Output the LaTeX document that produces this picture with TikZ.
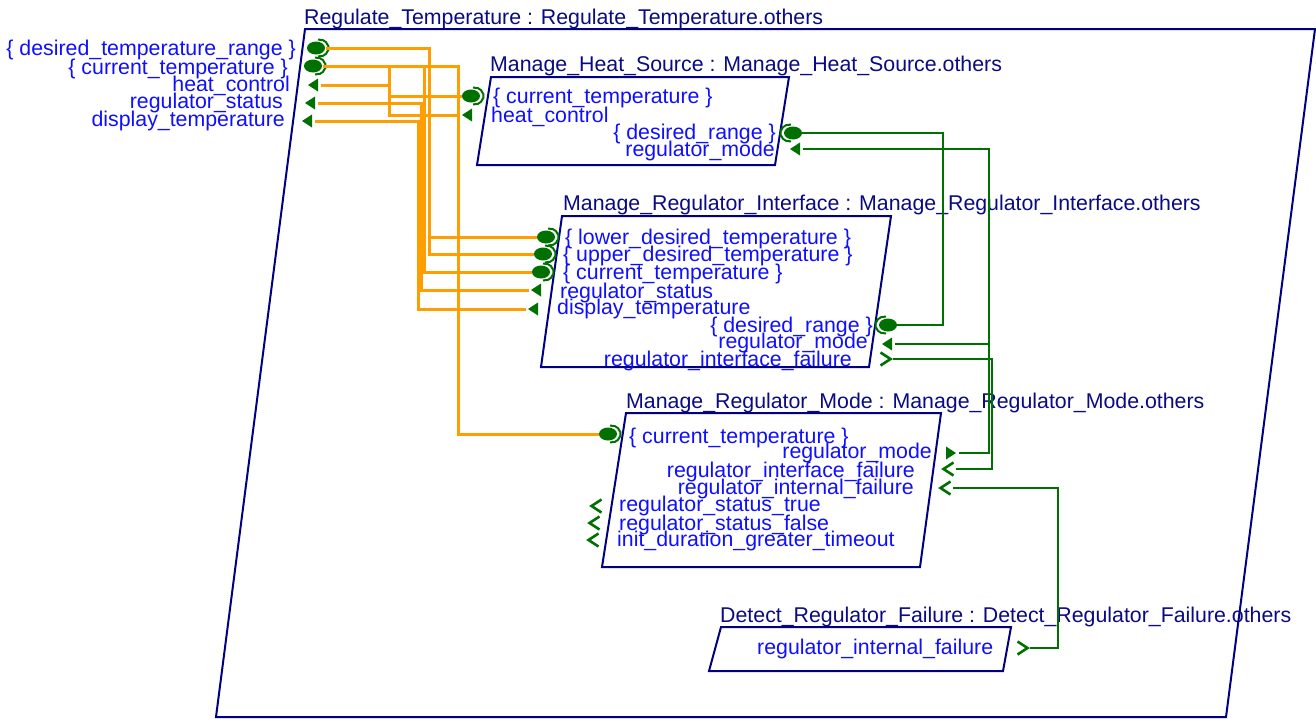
\documentclass[tikz,border=0pt]{standalone}
\usepackage{fontspec}
\setmainfont{Liberation Sans}
\usetikzlibrary{calc}

\definecolor{boxline}{RGB}{0,0,128}
\definecolor{titletext}{RGB}{10,10,130}
\definecolor{porttext}{RGB}{15,15,255}
\definecolor{portgreen}{RGB}{0,112,0}
\definecolor{wireorange}{RGB}{255,158,0}

\tikzset{
  boxln/.style={draw=boxline, line width=2},
  ttl/.style={text=titletext, inner sep=0, font=\fontsize{21.33}{22}\selectfont},
  lbl/.style={text=porttext, inner sep=0, font=\fontsize{21.33}{22}\selectfont},
  owire/.style={draw=wireorange, line width=3},
  gwire/.style={draw=portgreen, line width=2.5},
  % data port, bracket on the right of the ellipse
  dataR/.pic={
    \fill[portgreen] (0,0) ellipse [x radius=9, y radius=6.5];
    \draw[portgreen, line width=2, rounded corners=2] (2,-8.5) -- (9,-7.5) -- (13.5,0) -- (9,7.5) -- (2,8.5);
    \coordinate (-w) at (-9,0);
    \coordinate (-e) at (10,0);
  },
  % data port, bracket on the left of the ellipse
  dataL/.pic={
    \fill[portgreen] (0,0) ellipse [x radius=9, y radius=6.5];
    \draw[portgreen, line width=2, rounded corners=2] (-2,-8.5) -- (-9,-7.5) -- (-13.5,0) -- (-9,7.5) -- (-2,8.5);
    \coordinate (-w) at (-10,0);
    \coordinate (-e) at (9,0);
  },
  % filled event-data triangles
  triL/.pic={
    \fill[portgreen] (-5,0) -- (5,-6.5) -- (5,6.5) -- cycle;
    \coordinate (-w) at (-7.5,0);
    \coordinate (-e) at (7.5,0);
  },
  triR/.pic={
    \fill[portgreen] (5,0) -- (-5,-6.5) -- (-5,6.5) -- cycle;
    \coordinate (-w) at (-7.5,0);
    \coordinate (-e) at (7.5,0);
  },
  % open event ports
  chevL/.pic={
    \draw[portgreen, line width=2.6] (5.5,-6.5) -- (-4.5,0) -- (5.5,6.5);
    \coordinate (-w) at (-7,0);
    \coordinate (-e) at (8,0);
  },
  chevR/.pic={
    \draw[portgreen, line width=2.6] (-5.5,-6.5) -- (4.5,0) -- (-5.5,6.5);
    \coordinate (-w) at (-8,0);
    \coordinate (-e) at (7,0);
  },
}

\begin{document}
\begin{tikzpicture}[x=1pt, y=-1pt]
\useasboundingbox (0,0) rectangle (1316,718);

% ---------------- component outlines ----------------
\draw[boxln] (305,29) -- (1315,29) -- (1226,717) -- (216,717) -- cycle;
\draw[boxln] (491,77) -- (789,77) -- (775,165) -- (477,165) -- cycle;
\draw[boxln] (562,216) -- (891,216) -- (869,367) -- (541,367) -- cycle;
\draw[boxln] (626,413) -- (941,413) -- (920,567) -- (602,567) -- cycle;
\draw[boxln] (721,627) -- (1011,627) -- (1003,671) -- (709,671) -- cycle;

% ---------------- titles ----------------
\node[ttl, anchor=base west] (t-rt)  at (304,24)  {Regulate\_Temperature : Regulate\_Temperature.others};
\node[ttl, anchor=base west] (t-mhs) at (490,71)  {Manage\_Heat\_Source : Manage\_Heat\_Source.others};
\node[ttl, anchor=base west] (t-mri) at (563,210) {Manage\_Regulator\_Interface : Manage\_Regulator\_Interface.others};
\node[ttl, anchor=base west] (t-mrm) at (626,408) {Manage\_Regulator\_Mode : Manage\_Regulator\_Mode.others};
\node[ttl, anchor=base west] (t-drf) at (720,622) {Detect\_Regulator\_Failure : Detect\_Regulator\_Failure.others};

% ---------------- ports ----------------
% Regulate_Temperature
\pic (o-dtr) at (316,48)  {dataR};
\pic (o-ct)  at (313,66)  {dataR};
\pic (o-hc)  at (313,85)  {triL};
\pic (o-rs)  at (310,103) {triL};
\pic (o-dt)  at (307,121) {triL};
% Manage_Heat_Source
\pic (mhs-ct) at (471,96)  {dataR};
\pic (mhs-hc) at (467,115) {triL};
\pic (mhs-dr) at (793,133) {dataL};
\pic (mhs-rm) at (795,149) {triL};
% Manage_Regulator_Interface
\pic (mri-lo)  at (546,237) {dataR};
\pic (mri-up)  at (543,254) {dataR};
\pic (mri-ct)  at (541,272) {dataR};
\pic (mri-rs)  at (536,290) {triL};
\pic (mri-dt)  at (533,309) {triL};
\pic (mri-dr)  at (888,325) {dataL};
\pic (mri-rm)  at (887,344) {triL};
\pic (mri-rif) at (886,359) {chevR};
% Manage_Regulator_Mode
\pic (mrm-ct)    at (608,434) {dataR};
\pic (mrm-rm)    at (951,453) {triR};
\pic (mrm-rif)   at (948,469) {chevL};
\pic (mrm-rintf) at (945,488) {chevL};
\pic (mrm-st)    at (596,506) {chevL};
\pic (mrm-sf)    at (594,523) {chevL};
\pic (mrm-id)    at (593,540) {chevL};
% Detect_Regulator_Failure
\pic (drf-rintf) at (1023,648) {chevR};

% ---------------- routing columns ----------------
\coordinate (c389) at (389,0);
\coordinate (c418) at (418,0);
\coordinate (c421) at (421,0);
\coordinate (c424) at (424,0);
\coordinate (c429) at (429,0);
\coordinate (c458) at (458,0);
\coordinate (c943) at (943,0);
\coordinate (c989) at (989,0);
\coordinate (c992) at (992,0);
\coordinate (c1058) at (1058,0);

% ---------------- orange connections ----------------
\draw[owire] (o-dtr-e) -- (o-dtr-e -| c429) |- (mri-up-w);
\draw[owire] (mri-lo-w -| c429) -- (mri-lo-w);
\draw[owire] (o-ct-e) -- (o-ct-e -| c458) |- (mrm-ct-w);
\draw[owire] (o-ct-e -| c389) |- (mhs-ct-w);
\draw[owire] (o-ct-e -| c424) |- (mri-ct-w);
\draw[owire] (o-hc-e) -- (o-hc-e -| c389) |- (mhs-hc-w);
\draw[owire] (o-rs-e) -- (o-rs-e -| c421) |- (mri-rs-w);
\draw[owire] (o-dt-e) -- (o-dt-e -| c418) |- (mri-dt-w);

% ---------------- green connections ----------------
\draw[gwire] (mhs-dr-e) -- (mhs-dr-e -| c943) |- (mri-dr-e);
\draw[gwire] (mhs-rm-e) -- (mhs-rm-e -| c989) |- (mrm-rm-e);
\draw[gwire] (mri-rm-e) -- (mri-rm-e -| c989);
\draw[gwire] (mri-rif-e) -- (mri-rif-e -| c992) |- (mrm-rif-e);
\draw[gwire] (mrm-rintf-e) -- (mrm-rintf-e -| c1058) |- (drf-rintf-e);

% ---------------- port labels ----------------
\node[lbl, anchor=base east] (l-o-dtr) at (296,55)  {\{ desired\_temperature\_range \}};
\node[lbl, anchor=base east] (l-o-ct)  at (288,74)  {\{ current\_temperature \}};
\node[lbl, anchor=base east] (l-o-hc)  at (290,91)  {heat\_control};
\node[lbl, anchor=base east] (l-o-rs)  at (283,108) {regulator\_status};
\node[lbl, anchor=base east] (l-o-dt)  at (285,126) {display\_temperature};

\node[lbl, anchor=base west] (l-mhs-ct) at (493,103) {\{ current\_temperature \}};
\node[lbl, anchor=base west] (l-mhs-hc) at (491,122) {heat\_control};
\node[lbl, anchor=base east] (l-mhs-dr) at (776,139) {\{ desired\_range \}};
\node[lbl, anchor=base east] (l-mhs-rm) at (775,156) {regulator\_mode};

\node[lbl, anchor=base west] (l-mri-lo)  at (565,244) {\{ lower\_desired\_temperature \}};
\node[lbl, anchor=base west] (l-mri-up)  at (563,261) {\{ upper\_desired\_temperature \}};
\node[lbl, anchor=base west] (l-mri-ct)  at (563,279) {\{ current\_temperature \}};
\node[lbl, anchor=base west] (l-mri-rs)  at (560,298) {regulator\_status};
\node[lbl, anchor=base west] (l-mri-dt)  at (557,314) {display\_temperature};
\node[lbl, anchor=base east] (l-mri-dr)  at (873,332) {\{ desired\_range \}};
\node[lbl, anchor=base east] (l-mri-rm)  at (868,348) {regulator\_mode};
\node[lbl, anchor=base east] (l-mri-rif) at (852,366) {regulator\_interface\_failure};

\node[lbl, anchor=base west] (l-mrm-ct)    at (629,443) {\{ current\_temperature \}};
\node[lbl, anchor=base east] (l-mrm-rm)    at (932,458) {regulator\_mode};
\node[lbl, anchor=base east] (l-mrm-rif)   at (915,477) {regulator\_interface\_failure};
\node[lbl, anchor=base east] (l-mrm-rintf) at (914,494) {regulator\_internal\_failure};
\node[lbl, anchor=base west] (l-mrm-st)    at (619,511) {regulator\_status\_true};
\node[lbl, anchor=base west] (l-mrm-sf)    at (619,530) {regulator\_status\_false};
\node[lbl, anchor=base west] (l-mrm-id)    at (617,546) {init\_duration\_greater\_timeout};

\node[lbl, anchor=base west] (l-drf-rintf) at (757,654) {regulator\_internal\_failure};
\end{tikzpicture}
\end{document}
